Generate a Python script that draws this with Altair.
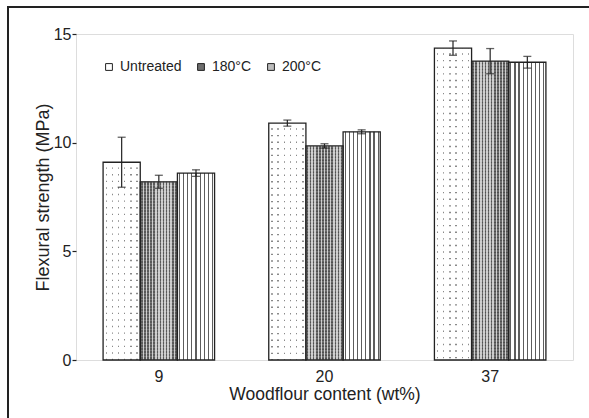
import altair as alt
import pandas as pd

# Flexural strength of the composites by woodflour content and treatment
content = ["9", "20", "37"]
treatments = ["Untreated", "180°C", "200°C"]
strength_untreated = [9.1, 10.9, 14.35]
strength_180 = [8.2, 9.85, 13.75]
strength_200 = [8.6, 10.5, 13.7]
err_untreated = [1.15, 0.14, 0.33]
err_180 = [0.3, 0.1, 0.58]
err_200 = [0.15, 0.09, 0.27]

rows = []
for t, vals, errs in zip(treatments,
                         [strength_untreated, strength_180, strength_200],
                         [err_untreated, err_180, err_200]):
    for c, v, e in zip(content, vals, errs):
        rows.append({"content": c, "treatment": t, "strength": v, "err": e})
df = pd.DataFrame(rows)

FONT = "Liberation Sans"
INK = "#222222"
W, H = 497, 326
BAR_W = W / 3 * (1 - 0.327) / 3


def stripes(n, frac, ink, paper):
    """Stops for n sharp stripes across a gradient."""
    stops = []
    for i in range(n):
        a = i / n + 0.5 / n * (1 - frac)
        b = a + frac / n
        stops += [
            {"offset": i / n, "color": paper},
            {"offset": a, "color": paper},
            {"offset": a, "color": ink},
            {"offset": b, "color": ink},
            {"offset": b, "color": paper},
        ]
    stops.append({"offset": 1, "color": paper})
    return {"gradient": "linear", "x1": 0, "y1": 0, "x2": 1, "y2": 0, "stops": stops}


x_enc = alt.X("content:N", sort=content, title="Woodflour content (wt%)",
              scale=alt.Scale(paddingInner=0.327, paddingOuter=0.1635),
              axis=alt.Axis(labelAngle=0, ticks=False, tickSize=0, domain=False,
                            labelBaseline="alphabetic", labelPadding=21,
                            labelFontSize=16, labelFont=FONT, labelColor=INK,
                            titleFontSize=17.5, titleFont=FONT, titleColor=INK,
                            titleFontWeight="normal", titleBaseline="alphabetic",
                            titleX=W / 2, titleY=39))
xo_enc = alt.XOffset("treatment:N", sort=treatments,
                     scale=alt.Scale(domain=treatments, paddingInner=0, paddingOuter=0))
y_enc = alt.Y("strength:Q", title="Flexural strength (MPa)",
              scale=alt.Scale(domain=[0, 15], nice=False),
              axis=alt.Axis(values=[0, 5, 10, 15], grid=False, domain=False,
                            tickSize=4, tickColor=INK, tickWidth=1.2,
                            labelPadding=1, labelFontSize=16, labelFont=FONT,
                            labelColor=INK, titleFontSize=18, titleFont=FONT,
                            titleColor=INK, titleFontWeight="normal",
                            titleBaseline="alphabetic", titleAngle=-90,
                            titleX=-28, titleY=H / 2))

base = alt.Chart(df)

# plain bars carry the legend
legend_bars = base.mark_bar().encode(
    x=x_enc, xOffset=xo_enc, y=y_enc,
    fill=alt.Fill("treatment:N", sort=treatments,
                  scale=alt.Scale(domain=treatments,
                                  range=["#ffffff", "#6e6e6e", "#bdbdbd"]),
                  legend=alt.Legend(title=None, orient="none", direction="horizontal",
                                    legendX=26, legendY=26, symbolType="square",
                                    symbolSize=46, symbolStrokeColor=INK,
                                    symbolStrokeWidth=1, symbolOpacity=1,
                                    labelFontSize=14, labelFont=FONT,
                                    labelColor=INK, labelOffset=4,
                                    columnPadding=12)),
)

enc = dict(x=x_enc, xOffset=xo_enc, y=alt.Y("strength:Q"))

# untreated: sparse dot grid
dots_base = base.transform_filter(alt.datum.treatment == "Untreated").mark_bar(
    fill=stripes(6, 0.22, "#8a8a8a", "#ffffff")).encode(**enc)
dots_rows = base.transform_filter(alt.datum.treatment == "Untreated").mark_rule(
    color="#ffffff", strokeWidth=BAR_W - 1.5, strokeDash=[5.2, 1.4], strokeCap="butt"
).encode(x=x_enc, xOffset=xo_enc, y=alt.Y("strength:Q"), y2=alt.datum(0))

# 180 °C: dense dark cross-hatch
hatch_base = base.transform_filter(alt.datum.treatment == "180°C").mark_bar(
    fill=stripes(12, 0.5, "#505050", "#c6c6c6")).encode(**enc)
hatch_rows = base.transform_filter(alt.datum.treatment == "180°C").mark_rule(
    color="#ffffff", opacity=0.22, strokeWidth=BAR_W - 1.5, strokeDash=[1.5, 1.5],
    strokeCap="butt"
).encode(x=x_enc, xOffset=xo_enc, y=alt.Y("strength:Q"), y2=alt.datum(0))

# 200 °C: vertical lines
lines_bars = base.transform_filter(alt.datum.treatment == "200°C").mark_bar(
    fill=stripes(9, 0.28, "#5e5e5e", "#ffffff")).encode(**enc)

outline = base.mark_bar(fill="transparent", stroke=INK, strokeWidth=1.3).encode(**enc)

err_base = base.transform_calculate(
    lo="datum.strength - datum.err", hi="datum.strength + datum.err")
err_rule = err_base.mark_rule(color=INK, strokeWidth=1.2).encode(
    x=x_enc, xOffset=xo_enc, y=alt.Y("lo:Q"), y2=alt.Y2("hi:Q"))
err_caps = err_base.transform_fold(["lo", "hi"], as_=["end", "val"]).mark_tick(
    color=INK, size=8, thickness=1.3).encode(
    x=x_enc, xOffset=xo_enc, y=alt.Y("val:Q"))

# page frame on the left and top edges
frame_left = base.mark_rule(color=INK, strokeWidth=2).encode(
    x=alt.value(-68), y=alt.value(-27), y2=alt.value(H + 60))
frame_top = base.mark_rule(color=INK, strokeWidth=2).encode(
    y=alt.value(-27), x=alt.value(-69), x2=alt.value(W + 20))

chart = alt.layer(
    legend_bars, dots_base, dots_rows, hatch_base, hatch_rows, lines_bars,
    outline, err_rule, err_caps, frame_left, frame_top,
).properties(
    width=W, height=H,
    padding={"left": 76, "top": 34, "right": 16, "bottom": 58},
    autosize=alt.AutoSizeParams(type="none"),
).configure_view(
    stroke=INK, strokeWidth=1.5
).configure(background="#ffffff")

chart.save("out.html", embed_options={"renderer": "svg", "actions": False})
